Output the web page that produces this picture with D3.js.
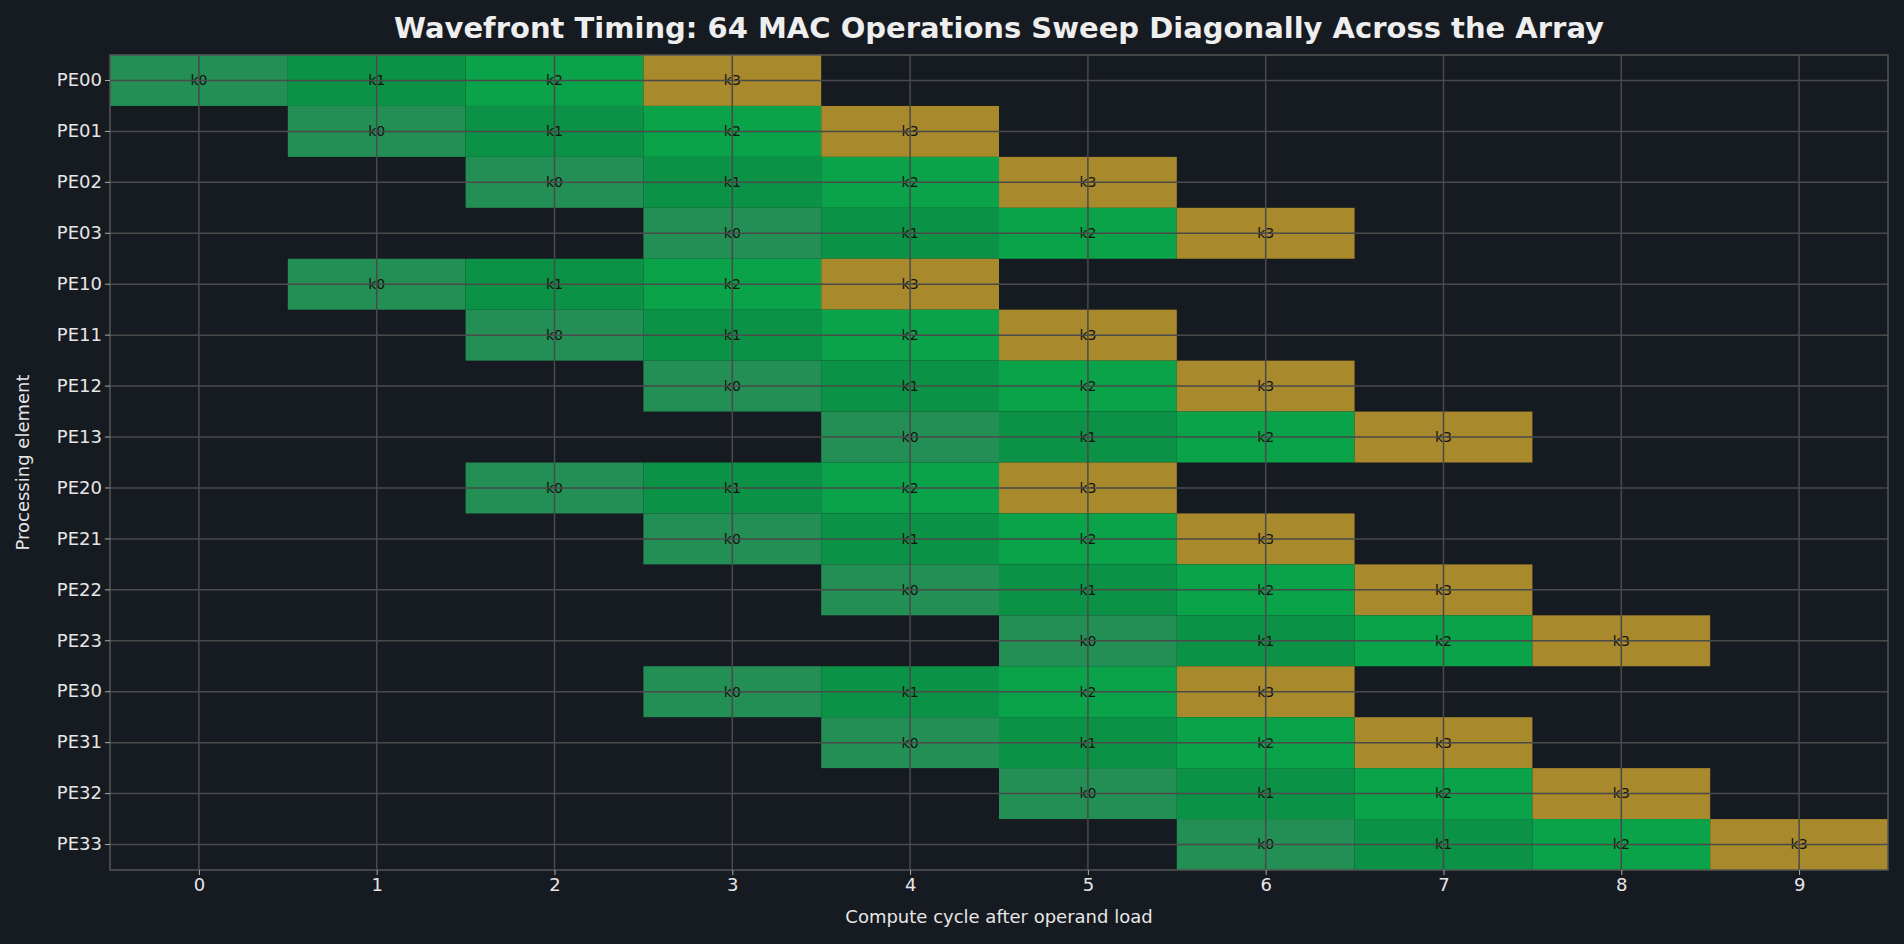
<!DOCTYPE html><html><head><meta charset="utf-8"><script src="https://cdn.jsdelivr.net/npm/d3@7"></script>
<style>body{margin:0;background:#161a21}svg{font-family:"DejaVu Sans",sans-serif}</style></head><body><svg id="c" width="1904" height="944"></svg><script>
const pes=["PE00","PE01","PE02","PE03","PE10","PE11","PE12","PE13","PE20","PE21","PE22","PE23","PE30","PE31","PE32","PE33"];
const ks=["k0","k1","k2","k3"];
const startCycle=[0,1,2,3,1,2,3,4,2,3,4,5,3,4,5,6];
const cycles=[0,1,2,3,4,5,6,7,8,9];
const colors=["#238f55","#0b9246","#0aa34a","#a8892b"];
const svg=d3.select("#c");
const L=110,R=1888,T=55,B=870;
const x=d3.scaleLinear().domain([-0.5,9.5]).range([L,R]);
const y=d3.scaleBand().domain(pes).range([T,B]).padding(0);
const cells=[];pes.forEach((p,i)=>ks.forEach((k,j)=>cells.push({p,k,j,c:startCycle[i]+j})));
svg.append("g").selectAll("rect").data(cells).join("rect").attr("x",d=>x(d.c-0.5)).attr("width",x(1)-x(0)).attr("y",d=>y(d.p)).attr("height",y.bandwidth()).attr("fill",d=>colors[d.j]);
svg.append("g").selectAll("text").data(cells).join("text").attr("x",d=>x(d.c)).attr("y",d=>y(d.p)+y.bandwidth()/2).attr("dy","0.35em").attr("text-anchor","middle").attr("font-size",14).attr("fill","#111").text(d=>d.k);
const g=svg.append("g").attr("stroke","#4a4a4a").attr("stroke-width",1.5);
cycles.forEach(c=>g.append("line").attr("x1",x(c)).attr("x2",x(c)).attr("y1",T).attr("y2",B));
pes.forEach(p=>g.append("line").attr("x1",L).attr("x2",R).attr("y1",y(p)+y.bandwidth()/2).attr("y2",y(p)+y.bandwidth()/2));
svg.append("rect").attr("x",L).attr("y",T).attr("width",R-L).attr("height",B-T).attr("fill","none").attr("stroke","#555").attr("stroke-width",1.5);
const xa=svg.append("g").attr("transform",`translate(0,${B})`).call(d3.axisBottom(x).tickValues(cycles).tickFormat(d3.format("d")).tickSize(5));
const ya=svg.append("g").attr("transform",`translate(${L},0)`).call(d3.axisLeft(y).tickSize(5));
[xa,ya].forEach(a=>{a.select(".domain").remove();a.selectAll("line").attr("stroke","#aaa");a.selectAll("text").attr("fill","#e6e6e6").attr("font-size",18).attr("font-family","DejaVu Sans");});
svg.append("text").attr("x",(L+R)/2).attr("y",38).attr("text-anchor","middle").attr("font-size",29).attr("font-weight","bold").attr("fill","#eeeeee").text("Wavefront Timing: 64 MAC Operations Sweep Diagonally Across the Array");
svg.append("text").attr("x",(L+R)/2).attr("y",923).attr("text-anchor","middle").attr("font-size",18).attr("fill","#e6e6e6").text("Compute cycle after operand load");
svg.append("text").attr("transform",`translate(29,${(T+B)/2}) rotate(-90)`).attr("text-anchor","middle").attr("font-size",18).attr("fill","#e6e6e6").text("Processing element");
</script></body></html>
